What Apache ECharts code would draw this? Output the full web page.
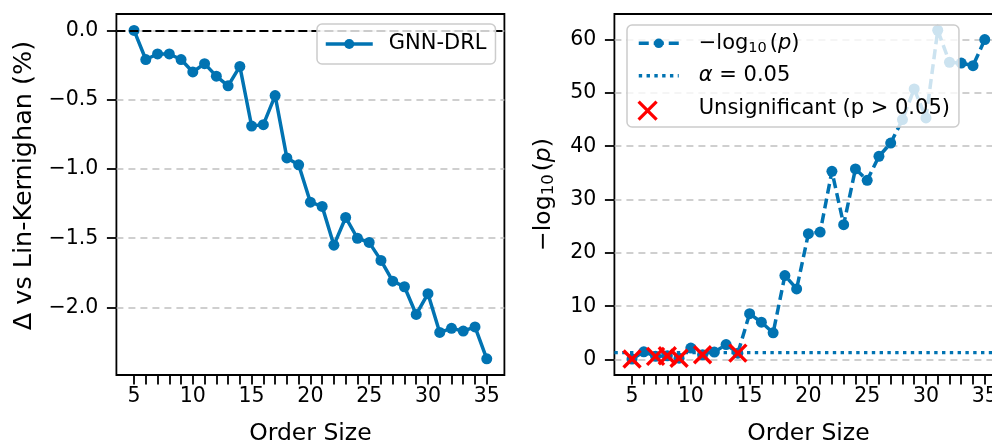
<!DOCTYPE html>
<html><head><meta charset="utf-8">
<script src="https://cdn.jsdelivr.net/npm/echarts@6/dist/echarts.min.js"></script>
<style>html,body{margin:0;padding:0;background:#fff}#c{width:992px;height:446px}</style>
</head><body><div id="c"></div>
<script>
// ---- data ----
const orderSizes = [5,6,7,8,9,10,11,12,13,14,15,16,17,18,19,20,21,22,23,24,25,26,27,28,29,30,31,32,33,34,35];
const gnnDeltaPct = [0.0,-0.21,-0.17,-0.17,-0.21,-0.30,-0.24,-0.33,-0.40,-0.26,-0.69,-0.68,-0.47,-0.92,-0.97,-1.24,-1.27,-1.55,-1.35,-1.50,-1.53,-1.66,-1.81,-1.85,-2.05,-1.90,-2.18,-2.15,-2.17,-2.14,-2.37];
const negLog10P = [0.1,1.45,0.6,0.7,0.25,2.15,0.9,1.4,2.8,1.2,8.6,7.0,5.0,15.75,13.25,23.6,23.9,35.3,25.3,35.75,33.6,38.1,40.6,45.0,50.75,45.3,61.75,55.75,55.6,55.1,60.0];
const unsigSizes = [5,7,8,9,11,14];
const alphaLevel = 0.05;
const referenceLevel = 0;
// ---- ticks ----
const xTickValues = [5,6,7,8,9,10,11,12,13,14,15,16,17,18,19,20,21,22,23,24,25,26,27,28,29,30,31,32,33,34,35];
const xLabelValues = [5,10,15,20,25,30,35];
const leftYTicks = [-2.0,-1.5,-1.0,-0.5,0.0];
const rightYTicks = [0,10,20,30,40,50,60];
const xRange = [3.5, 36.5];
const leftYRange = [-2.487, 0.1185];
const rightYRange = [-2.9, 64.8];

const FONT = 'DejaVu Sans';
const BLUE = '#0173b2';
const alphaThreshold = -Math.log10(alphaLevel);

const gnnData = orderSizes.map((x, i) => [x, gnnDeltaPct[i]]);
const pData = orderSizes.map((x, i) => [x, negLog10P[i]]);
const unsigData = unsigSizes.map(x => [x, negLog10P[orderSizes.indexOf(x)]]);
const alphaData = [[xRange[0], alphaThreshold], [xRange[1], alphaThreshold]];

const fmtMinus = v => (v < 0 ? '\u2212' + Math.abs(v).toFixed(1) : v.toFixed(1));

function xAxisCfg(gi) {
  return {
    gridIndex: gi, type: 'value', min: xRange[0], max: xRange[1],
    axisLine: {show: false, onZero: false},
    axisTick: {show: true, length: 9.5, customValues: xTickValues, lineStyle: {color: '#000', width: 1.8}},
    axisLabel: {customValues: xLabelValues, margin: 11, fontSize: 20.5, color: '#000', fontFamily: FONT},
    splitLine: {show: false},
    name: 'Order Size', nameLocation: 'middle', nameGap: 47,
    nameTextStyle: {fontSize: 23.5, color: '#000', fontFamily: FONT}
  };
}
const gridLineStyle = {color: '#c0c0c0', type: [7, 5], width: 1.5};

const rich = {
  t: {fontSize: 21, fontFamily: FONT, color: '#000', lineHeight: 24},
  s: {fontSize: 14.5, fontFamily: FONT, color: '#000', lineHeight: 14, verticalAlign: 'bottom', padding: [0, 3, 0, 0]},
  i: {fontSize: 21, fontFamily: FONT, color: '#000', fontStyle: 'italic', lineHeight: 24}
};
const nameRich = {
  t: {fontSize: 23.5, fontFamily: FONT, color: '#000', lineHeight: 28},
  s: {fontSize: 16.5, fontFamily: FONT, color: '#000', lineHeight: 16, verticalAlign: 'bottom', padding: [0, 3, 0, 0]},
  i: {fontSize: 23.5, fontFamily: FONT, color: '#000', fontStyle: 'italic', lineHeight: 28}
};
const legendLabels = {
  neglog: '{t|\u2212log}{s|10}{t|(}{i|p}{t|)}',
  alpha: '{i|\u03b1}{t| = 0.05}',
  unsig: '{t|Unsignificant (p > 0.05)}'
};

const chart = echarts.init(document.getElementById('c'), null, {renderer: 'canvas'});
chart.setOption({
  animation: false,
  textStyle: {fontFamily: FONT},
  grid: [
    {left: 116.4, top: 14, width: 388, height: 361, show: true, borderColor: '#000', borderWidth: 1.8, backgroundColor: 'rgba(0,0,0,0)', containLabel: false, outerBoundsMode: 'none'},
    {left: 614.4, top: 14, width: 388, height: 361, show: true, borderColor: '#000', borderWidth: 1.8, backgroundColor: 'rgba(0,0,0,0)', containLabel: false, outerBoundsMode: 'none'}
  ],
  xAxis: [xAxisCfg(0), xAxisCfg(1)],
  yAxis: [
    {
      gridIndex: 0, type: 'value', min: leftYRange[0], max: leftYRange[1],
      axisLine: {show: false, onZero: false},
      axisTick: {show: true, length: 9.5, customValues: leftYTicks, lineStyle: {color: '#000', width: 1.8}},
      axisLabel: {customValues: leftYTicks, margin: 18, fontSize: 20.5, color: '#000', fontFamily: FONT, formatter: fmtMinus},
      splitLine: {show: true, customValues: leftYTicks, lineStyle: gridLineStyle},
      name: '\u0394 vs Lin-Kernighan (%)', nameLocation: 'middle', nameGap: 79,
      nameTextStyle: {fontSize: 25.5, color: '#000', fontFamily: FONT, padding: [0, 0, 0, 18]}
    },
    {
      gridIndex: 1, type: 'value', min: rightYRange[0], max: rightYRange[1],
      axisLine: {show: false, onZero: false},
      axisTick: {show: true, length: 9.5, customValues: rightYTicks, lineStyle: {color: '#000', width: 1.8}},
      axisLabel: {customValues: rightYTicks, margin: 18, fontSize: 20.5, color: '#000', fontFamily: FONT},
      splitLine: {show: true, customValues: rightYTicks, lineStyle: gridLineStyle},
      name: '{t|\u2212log}{s|10}{t|(}{i|p}{t|)}', nameLocation: 'middle', nameGap: 57,
      nameTextStyle: {fontSize: 23.5, color: '#000', fontFamily: FONT, rich: nameRich}
    }
  ],
  legend: [
    {
      data: ['GNN-DRL'], left: 317, top: 24, orient: 'horizontal',
      itemWidth: 47, itemHeight: 12.5, padding: [9.5, 9, 9.5, 7],
      backgroundColor: 'rgba(255,255,255,0.8)', borderColor: '#cccccc', borderWidth: 1.5, borderRadius: 5,
      textStyle: {fontSize: 21, fontFamily: FONT, color: '#000', padding: [0, 0, 0, 11]},
      lineStyle: {width: 'inherit'}, selectedMode: false, z: 10
    },
    {
      data: [{name: 'neglog'}, {name: 'alpha', itemStyle: {opacity: 0}}, {name: 'unsig', icon: 'none'}],
      left: 627, top: 25, orient: 'vertical',
      itemWidth: 40, itemHeight: 12, itemGap: 8.5, padding: [6.3, 9, 6.7, 10],
      backgroundColor: 'rgba(255,255,255,0.8)', borderColor: '#cccccc', borderWidth: 1.5, borderRadius: 5,
      formatter: name => legendLabels[name],
      textStyle: {fontSize: 21, fontFamily: FONT, color: '#000', lineHeight: 24, padding: [0, 0, 0, 15], rich: rich},
      lineStyle: {width: 'inherit'}, selectedMode: false, z: 10
    },
    {
      data: [{name: 'unsig'}], left: 637, top: 100, orient: 'vertical',
      itemWidth: 40, itemHeight: 18, padding: 0,
      formatter: () => '',
      textStyle: {fontSize: 18, lineHeight: 18, color: 'rgba(0,0,0,0)'},
      itemStyle: {borderWidth: 3.2}, selectedMode: false, z: 11
    }
  ],
  series: [
    {
      name: 'GNN-DRL', type: 'line', xAxisIndex: 0, yAxisIndex: 0, data: gnnData,
      color: BLUE, lineStyle: {width: 3.5, color: BLUE}, itemStyle: {color: BLUE},
      symbol: 'circle', symbolSize: 11, showSymbol: true, z: 3,
      markLine: {
        silent: true, symbol: 'none', label: {show: false}, animation: false,
        lineStyle: {color: '#000', type: [9, 4], width: 2.2},
        data: [{yAxis: referenceLevel}]
      }
    },
    {
      name: 'neglog', type: 'line', xAxisIndex: 1, yAxisIndex: 1, data: pData,
      color: BLUE, lineStyle: {width: 3.5, color: BLUE, type: [10, 5]}, itemStyle: {color: BLUE},
      symbol: 'circle', symbolSize: 11, showSymbol: true, z: 3
    },
    {
      name: 'alpha', type: 'line', xAxisIndex: 1, yAxisIndex: 1, data: alphaData,
      color: BLUE, lineStyle: {width: 3.4, color: BLUE, type: [3.4, 4.4], cap: 'butt'}, itemStyle: {color: BLUE},
      symbol: 'none', showSymbol: false, z: 4
    },
    {
      name: 'unsig', type: 'scatter', xAxisIndex: 1, yAxisIndex: 1, data: unsigData,
      symbol: 'path://M0,0L10,10M10,0L0,10', symbolSize: 17,
      itemStyle: {color: 'rgba(0,0,0,0)', borderColor: '#ff0000', borderWidth: 3.4, opacity: 1}, z: 5
    }
  ]
});
</script>
</body></html>
